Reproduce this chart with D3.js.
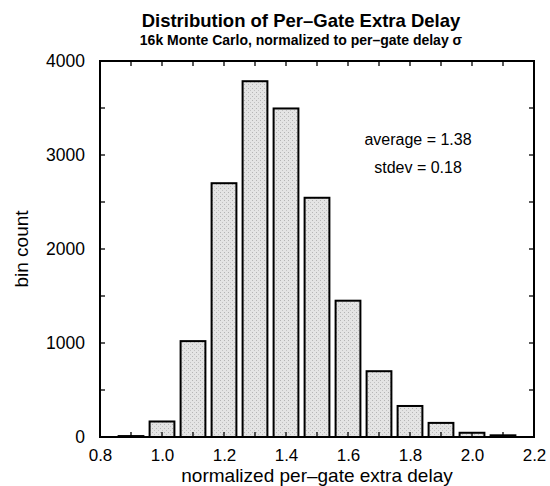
<!DOCTYPE html>
<html>
<head>
<meta charset="utf-8">
<script src="https://cdn.jsdelivr.net/npm/d3@7"></script>
<style>
  body { margin: 0; background: #fff; }
  text { font-family: "Liberation Sans", Arial, sans-serif; fill: #000; }
</style>
</head>
<body>
<div id="chart"></div>
<script>
// bin centres and counts
const binCenters = [0.9, 1.0, 1.1, 1.2, 1.3, 1.4, 1.5, 1.6, 1.7, 1.8, 1.9, 2.0, 2.1];
const binCounts = [10, 165, 1020, 2700, 3785, 3495, 2545, 1450, 700, 330, 150, 45, 18];
const xTickValues = [0.8, 1.0, 1.2, 1.4, 1.6, 1.8, 2.0, 2.2];
const yTickValues = [0, 1000, 2000, 3000, 4000];
const statLines = ["average = 1.38", "stdev = 0.18"];

const width = 550, height = 486;
const margin = { top: 61, right: 16, bottom: 49, left: 100 };
const barWidth = 0.08;

const svg = d3.select("#chart")
  .append("svg")
  .attr("width", width)
  .attr("height", height);

// stipple pattern for the bars
const defs = svg.append("defs");
const pat = defs.append("pattern")
  .attr("id", "stipple")
  .attr("width", 4)
  .attr("height", 4)
  .attr("patternUnits", "userSpaceOnUse");
pat.append("rect").attr("width", 4).attr("height", 4).attr("fill", "#e4e4e4");
pat.append("rect").attr("x", 0).attr("y", 0).attr("width", 1).attr("height", 1).attr("fill", "#b4b4b4");
pat.append("rect").attr("x", 2).attr("y", 2).attr("width", 1).attr("height", 1).attr("fill", "#c2c2c2");

const x = d3.scaleLinear().domain([0.8, 2.2]).range([margin.left, width - margin.right]);
const y = d3.scaleLinear().domain([0, 4000]).range([height - margin.bottom, margin.top]);

// bars
svg.append("g")
  .selectAll("rect")
  .data(binCenters)
  .enter()
  .append("rect")
  .attr("x", (d) => x(d - barWidth / 2))
  .attr("width", (d) => x(d + barWidth / 2) - x(d - barWidth / 2))
  .attr("y", (d, i) => y(binCounts[i]))
  .attr("height", (d, i) => y(0) - y(binCounts[i]))
  .attr("fill", "url(#stipple)")
  .attr("stroke", "#000")
  .attr("stroke-width", 2);

// axes labels only, ticks drawn inward below
const bottomAxis = d3.axisBottom(x).tickValues(xTickValues).tickFormat(d3.format(".1f")).tickSize(0).tickPadding(12);
const gx = svg.append("g")
  .attr("transform", `translate(0,${y(0)})`)
  .call(bottomAxis);
gx.select(".domain").remove();
gx.selectAll("text").attr("font-size", 17);

const leftAxis = d3.axisLeft(y).tickValues(yTickValues).tickFormat(d3.format("d")).tickSize(0).tickPadding(15);
const gy = svg.append("g")
  .attr("transform", `translate(${margin.left},0)`)
  .call(leftAxis);
gy.select(".domain").remove();
gy.selectAll("text").attr("font-size", 17.5);

// inward ticks on all four sides
const xMinor = d3.range(9, 22).map((v) => v / 10);
const yMinor = d3.range(500, 4000, 500);

const ticks = svg.append("g").attr("stroke", "#000").attr("stroke-width", 1.3);
xMinor.forEach((v) => {
  ticks.append("line").attr("x1", x(v)).attr("x2", x(v)).attr("y1", y(0)).attr("y2", y(0) - 5);
  ticks.append("line").attr("x1", x(v)).attr("x2", x(v)).attr("y1", y(4000)).attr("y2", y(4000) + 5);
});
yMinor.forEach((v) => {
  ticks.append("line").attr("x1", x(0.8)).attr("x2", x(0.8) + 5).attr("y1", y(v)).attr("y2", y(v));
  ticks.append("line").attr("x1", x(2.2)).attr("x2", x(2.2) - 5).attr("y1", y(v)).attr("y2", y(v));
});

// frame
svg.append("rect")
  .attr("x", x(0.8))
  .attr("y", y(4000))
  .attr("width", x(2.2) - x(0.8))
  .attr("height", y(0) - y(4000))
  .attr("fill", "none")
  .attr("stroke", "#000")
  .attr("stroke-width", 2);

// titles
svg.append("text")
  .attr("x", 301).attr("y", 27)
  .attr("text-anchor", "middle")
  .attr("font-size", 18.5).attr("font-weight", "bold")
  .text("Distribution of Per\u2013Gate Extra Delay");

svg.append("text")
  .attr("x", 301).attr("y", 45)
  .attr("text-anchor", "middle")
  .attr("font-size", 14).attr("font-weight", "bold")
  .text("16k Monte Carlo, normalized to per\u2013gate delay \u03c3");

// axis labels
svg.append("text")
  .attr("x", (x(0.8) + x(2.2)) / 2).attr("y", 482)
  .attr("text-anchor", "middle")
  .attr("font-size", 19)
  .text("normalized per\u2013gate extra delay");

svg.append("text")
  .attr("transform", `translate(28,${(y(0) + y(4000)) / 2}) rotate(-90)`)
  .attr("text-anchor", "middle")
  .attr("font-size", 19)
  .text("bin count");

// stats annotation
svg.append("g")
  .selectAll("text")
  .data(statLines)
  .enter()
  .append("text")
  .attr("x", 418)
  .attr("y", (d, i) => 145 + i * 28)
  .attr("text-anchor", "middle")
  .attr("font-size", 16)
  .text((d) => d);
</script>
</body>
</html>
